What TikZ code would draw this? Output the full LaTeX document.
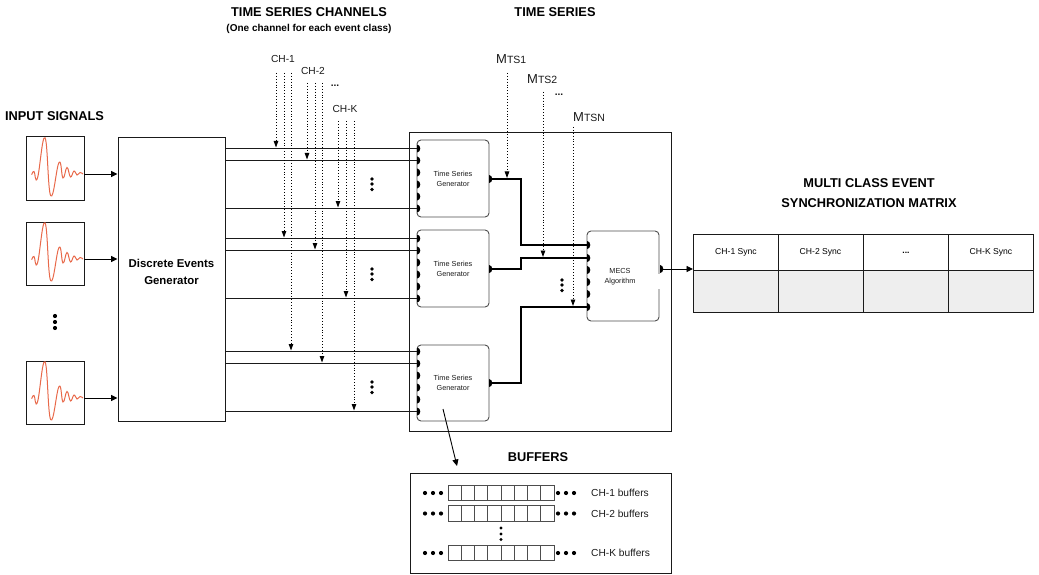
\documentclass[tikz,border=0pt]{standalone}
\usepackage{fontspec}
\setmainfont{Liberation Sans}
\usetikzlibrary{arrows.meta}
\definecolor{mecsInk}{HTML}{1A1A1A}
\definecolor{mecsEdge}{HTML}{4D4D4D}
\definecolor{mecsWave}{HTML}{E8694A}
\definecolor{mecsPale}{HTML}{EEEEEE}
\tikzset{
  mecs box/.style={draw=mecsInk, line width=1pt, inner sep=0pt},
  mecs block/.style={draw=mecsEdge, line width=0.9pt, rounded corners=4pt, inner sep=0pt, minimum width=72pt},
  mecs wire/.style={draw=mecsInk, line width=1.1pt},
  mecs thick/.style={draw=black, line width=1.4pt},
  mecs arrow/.style={draw=black, line width=0.9pt, -{Triangle[width=6pt,length=6.5pt]}},
  mecs dotted/.style={draw=black, line width=0.9pt, dotted, shorten >=1pt, -{Triangle[width=4.5pt,length=6.5pt]}},
  mecs wave/.style={draw=mecsWave, line width=1pt},
  mecs title/.style={font=\fontsize{12.8}{14}\selectfont\bfseries, text=black, align=center, inner sep=0pt},
  mecs note/.style={font=\fontsize{10}{12}\selectfont\bfseries, text=black, inner sep=0pt},
  mecs label/.style={font=\fontsize{10.2}{12}\selectfont, text=mecsInk, inner sep=0pt},
  mecs small/.style={font=\fontsize{7.3}{10}\selectfont, text=mecsInk, align=center, inner sep=0pt},
  mecs dot/.style={circle, fill=black, minimum size=4.2pt, inner sep=0pt},
  mecs port/.pic={\fill[black] (0pt,4pt) arc[start angle=90,end angle=-90,x radius=3.3pt,y radius=4pt] -- cycle;},
}
\newcommand{\mts}[1]{{\fontsize{13}{13}\selectfont M}{\fontsize{10.5}{13}\selectfont TS#1}}
\newcommand{\mecsmore}{\bfseries.\kern0pt.\kern0pt.}
\begin{document}
\begin{tikzpicture}[x=1pt, y=-1pt]
  \useasboundingbox (0,0) rectangle (1039,575);

  % Headings
  \node[mecs title] (titleChannels) at (309,12) {TIME SERIES CHANNELS};
  \node[mecs note] (noteChannels) at (309,29) {(One channel for each event class)};
  \node[mecs title] (titleSeries) at (555,12) {TIME SERIES};
  \node[mecs title] (titleInput) at (54.5,116) {INPUT SIGNALS};
  \node[mecs title] (titleBuffers) at (538,457) {BUFFERS};
  \node[mecs title] (titleMatrix) at (869,193) {MULTI CLASS EVENT\\[6pt]SYNCHRONIZATION MATRIX};

  % Generator of discrete events
  \node[mecs box, minimum width=107pt, minimum height=283pt] (deg) at (171.5,279.5) {};
  \node[font=\fontsize{11.4}{17}\selectfont\bfseries, align=center, inner sep=0pt] (degText) at (171.5,272) {Discrete Events\\Generator};

  % Input signals with their waves
  \foreach \n/\yy in {1/137,2/222,3/361} {
    \node[mecs box, minimum width=58pt, minimum height=63pt] (sig\n) at (55,\yy+31.5) {};
    \begin{scope}[shift={(26,\yy)}]
      \draw[mecs wave] plot[smooth, tension=0.75] coordinates {(5.7,37.7) (8,34.5) (11.5,41) (19,0.8) (24.7,58.7) (33,25.5) (37,41) (41,30.5) (44.5,40) (48,34) (51,38) (54,35.5) (57,37)};
      \coordinate (sigOut\n) at (58,37);
    \end{scope}
    \draw[mecs arrow] (sigOut\n) -- (deg.west |- sigOut\n);
  }
  \foreach \n/\yy in {1/316,2/322,3/328} {
    \node[mecs dot] (sigDot\n) at (55,\yy) {};
  }

  % Outer box with the three generators
  \node[mecs box, minimum width=262pt, minimum height=298pt] (core) at (540.5,282) {};
  \node[mecs block, minimum height=77pt] (tsga) at (453,178.5) {};
  \node[mecs block, minimum height=77pt] (tsgb) at (453,268.5) {};
  \node[mecs block, minimum height=76pt] (tsgc) at (453,383) {};
  \foreach \t in {a,b,c} {
    \node[mecs small] (tsgText\t) at (tsg\t.center) {Time Series\\Generator};
  }

  % Ports and channel wires
  \foreach \t/\off in {a/0,b/90,c/203} {
    \foreach \n/\yy in {1/148.5,2/160.5,3/172.5,4/184.5,5/196.5,6/208.5} {
      \coordinate (\t p\n) at (417,\yy+\off);
      \pic at (\t p\n) {mecs port};
    }
    \foreach \n in {1,2,6} {
      \draw[mecs wire] (deg.east |- \t p\n) -- (\t p\n);
    }
  }
  \foreach \t/\yy in {a/184,b/274,c/387} {
    \node[mecs dot, minimum size=3.6pt] (more\t1) at (372,\yy-5) {};
    \node[mecs dot, minimum size=3.6pt] (more\t2) at (372,\yy) {};
    \node[mecs dot, minimum size=3.6pt] (more\t3) at (372,\yy+5.5) {};
  }

  % MECS block
  \node[mecs block, minimum height=90pt] (mecs) at (623,276) {};
  \node[mecs small] (mecsText) at (620,276.5) {MECS\\Algorithm};
  \draw[white, line width=1.4pt] (659,274) -- (659,289);
  \foreach \n/\yy in {1/245,2/258,3/270,4/282,5/294,6/307} {
    \coordinate (mp\n) at (587,\yy);
    \pic at (mp\n) {mecs port};
  }

  % Outputs of the generators
  \foreach \t/\yy in {a/179,b/269,c/383} {
    \coordinate (out\t) at (489,\yy);
    \pic at (out\t) {mecs port};
  }
  \draw[mecs thick] (outa) -- (521,179) -- (521,245) -- (mp1);
  \draw[mecs thick] (outb) -- (521,269) -- (521,258) -- (mp2);
  \draw[mecs thick] (outc) -- (521,383) -- (521,307) -- (mp6);

  % Channel labels and dotted arrows
  \node[mecs label] (ch1) at (283,59) {CH-1};
  \node[mecs label] (ch2) at (313,71) {CH-2};
  \node[mecs label] (chk) at (345,109) {CH-K};
  \node[mecs label] (chMore) at (335,86) {\mecsmore};
  \foreach \name/\x/\ytop/\target in {
    c1a/276/73/ap1, c1b/284/73/bp1, c1c/291/73/cp1,
    c2a/307/83/ap2, c2b/315/83/bp2, c2c/322/83/cp2,
    cka/338/121/ap6, ckb/346/121/bp6, ckc/354/121/cp6} {
    \coordinate (\name) at (\x,\ytop);
    \draw[mecs dotted] (\name) -- (\name |- \target);
  }

  % Time series labels and dotted arrows
  \node[mecs label, anchor=west] (mts1) at (496,59) {\mts{1}};
  \node[mecs label, anchor=west] (mts2) at (527,79) {\mts{2}};
  \node[mecs label, anchor=west] (mtsn) at (573,117) {\mts{N}};
  \node[mecs label] (mtsMore) at (559,95) {\mecsmore};
  \coordinate (m1top) at (507,73);
  \coordinate (m2top) at (543,92);
  \coordinate (mntop) at (573,127);
  \draw[mecs dotted] (m1top) -- (m1top |- outa);
  \draw[mecs dotted] (m2top) -- (m2top |- mp2);
  \draw[mecs dotted] (mntop) -- (mntop |- mp6);
  \foreach \n/\yy in {1/280,2/285,3/290.5} {
    \node[mecs dot, minimum size=3.6pt] (mDot\n) at (562,\yy) {};
  }

  % Output matrix
  \coordinate (mecsOut) at (660,269);
  \pic at (mecsOut) {mecs port};
  \foreach \n/\x/\txt in {1/736/CH-1 Sync, 2/820.5/CH-2 Sync, 3/906/\mecsmore, 4/991/CH-K Sync} {
    \node[mecs box, minimum width=85pt, minimum height=36pt, font=\fontsize{8.6}{10}\selectfont] (sync\n) at (\x,252.5) {\txt};
    \node[mecs box, fill=mecsPale, minimum width=85pt, minimum height=42pt] (cell\n) at (\x,291.5) {};
  }
  \draw[mecs arrow] (mecsOut) -- (sync1.west |- mecsOut);

  % Buffers
  \node[mecs box, minimum width=261pt, minimum height=100pt] (bufs) at (540.5,523) {};
  \coordinate (tapStart) at (443,409);
  \coordinate (tapEnd) at (457,466);
  \draw[mecs arrow] (tapStart) -- (tapEnd);
  \foreach \r/\yy/\txt/\lx in {1/493/CH-1 buffers/591, 2/513.5/CH-2 buffers/591, 3/553/CH-K buffers/591} {
    \foreach \c in {1,...,8} {
      \node[mecs box, draw=mecsEdge, line width=0.7pt, minimum width=13.25pt, minimum height=15.5pt] (buf\r c\c) at (441.4+\c*13.25,\yy) {};
    }
    \foreach \d/\x in {1/425,2/433,3/441,4/558,5/566,6/574} {
      \node[mecs dot] (bufDot\r d\d) at (\x,\yy) {};
    }
    \node[mecs label, anchor=west] (bufText\r) at (\lx,\yy) {\txt};
  }
  \foreach \n/\yy in {1/528,2/534,3/539.5} {
    \node[mecs dot, minimum size=3.4pt] (bufMore\n) at (501,\yy) {};
  }
\end{tikzpicture}
\end{document}
